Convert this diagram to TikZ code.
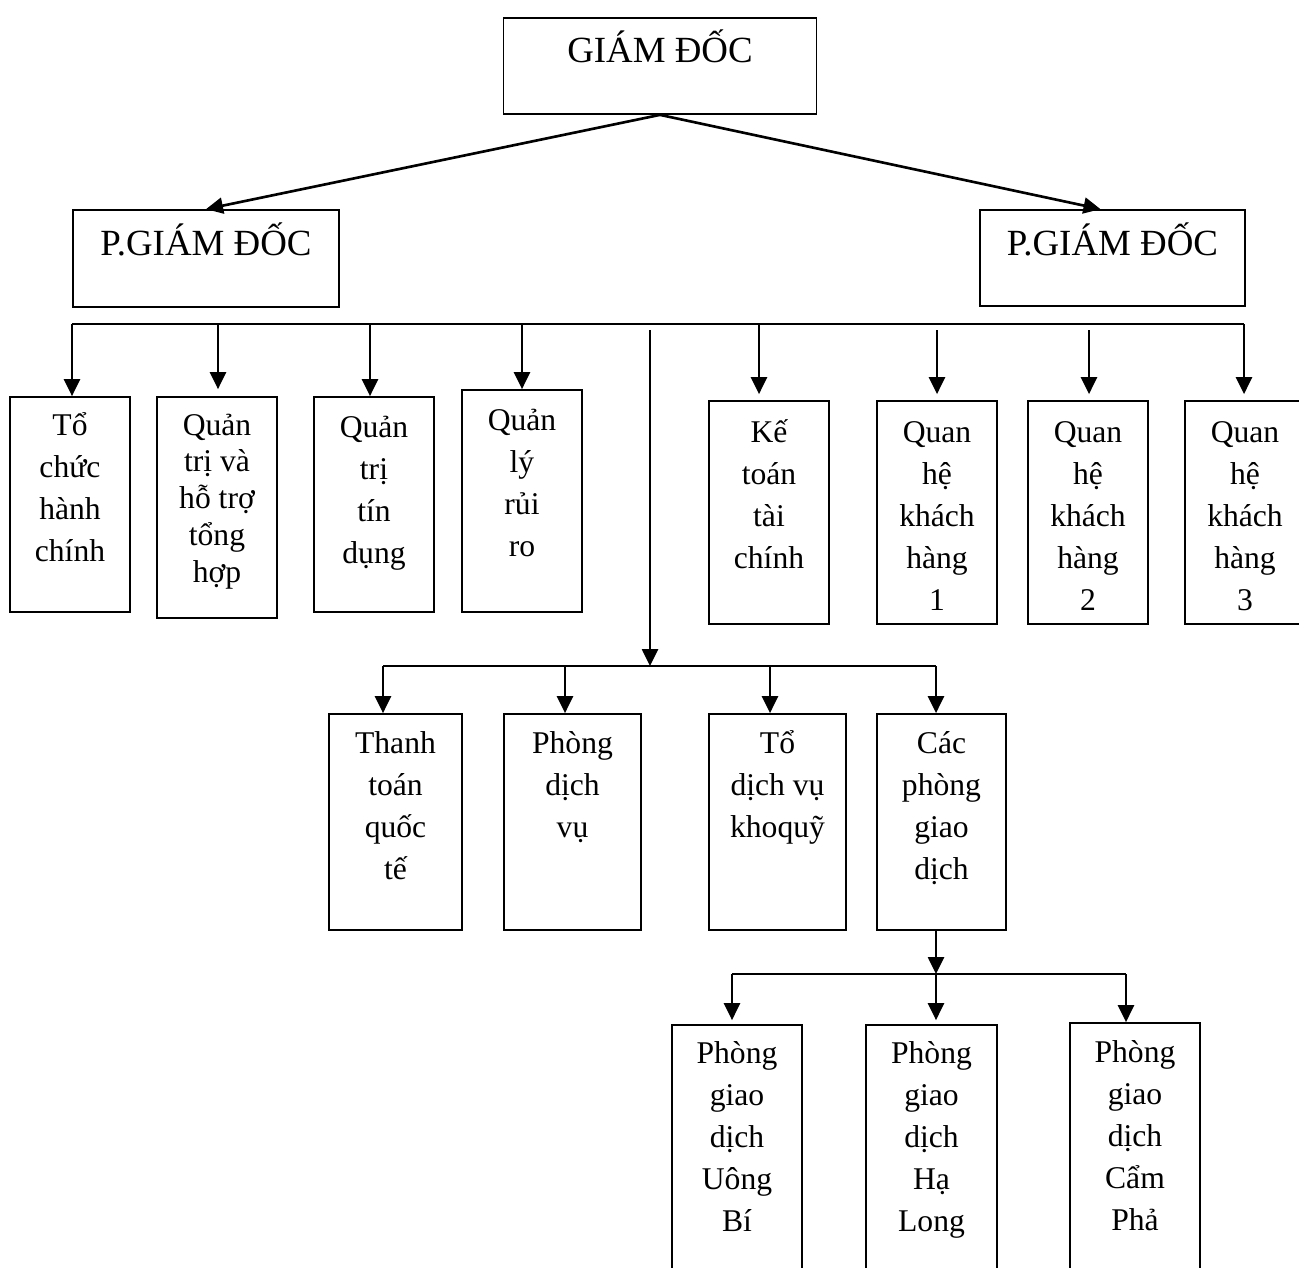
\documentclass[tikz,border=0pt]{standalone}
\usepackage{fontspec}
\setmainfont{Liberation Serif}
\usetikzlibrary{arrows.meta}

\tikzset{
  unit/.style={draw, line width=1pt, inner sep=0pt, font=\fontsize{18}{24}\selectfont},
  head/.style={draw, line width=1pt, inner sep=0pt, font=\fontsize{21}{25}\selectfont},
  link/.style={line width=1.5pt},
  arr/.style={link, -{Triangle[length=0.34cm,width=0.32cm]}},
}
% box text: [offset of first baseline]{width}{height}{lines}
\newcommand{\cell}[4][0.8cm]{\parbox[c][#3][t]{#2}{\centering\rule{0pt}{#1}#4}}

\begin{document}
\begin{tikzpicture}[x=0.02cm, y=-0.02cm]
\useasboundingbox (0,0) rectangle (1299,1268);

% top
\node[head] (gd) at (660,66) {\cell[0.88cm]{6.26cm}{1.92cm}{GIÁM ĐỐC}};
\node[head] (pgdl) at (206,258.5) {\cell[0.9cm]{5.32cm}{1.94cm}{P.GIÁM ĐỐC}};
\node[head] (pgdr) at (1112.5,258) {\cell[0.9cm]{5.3cm}{1.92cm}{P.GIÁM ĐỐC}};
\draw[arr] (gd.south) -- (pgdl.north);
\draw[arr] (gd.south) -- ([xshift=-0.24cm]pgdr.north);

% first row
\node[unit] (tc) at (70,504.5) {\cell[0.76cm]{2.4cm}{4.3cm}{Tổ\\chức\\hành\\chính}};
\node[unit, font=\fontsize{18}{21}\selectfont] (qt) at (217,507.5) {\cell[0.76cm]{2.4cm}{4.42cm}{Quản\\trị và\\hỗ trợ\\tổng\\hợp}};
\node[unit] (td) at (374,504.5) {\cell{2.4cm}{4.3cm}{Quản\\trị\\tín\\dụng}};
\node[unit] (rr) at (522,501) {\cell{2.4cm}{4.44cm}{Quản\\lý\\rủi\\ro}};
\node[unit] (kt) at (769,512.5) {\cell[0.82cm]{2.4cm}{4.46cm}{Kế\\toán\\tài\\chính}};
\node[unit] (kh1) at (937,512.5) {\cell[0.82cm]{2.4cm}{4.46cm}{Quan\\hệ\\khách\\hàng\\1}};
\node[unit] (kh2) at (1088,512.5) {\cell[0.82cm]{2.4cm}{4.46cm}{Quan\\hệ\\khách\\hàng\\2}};
\node[unit] (kh3) at (1245,512.5) {\cell[0.82cm]{2.4cm}{4.46cm}{Quan\\hệ\\khách\\hàng\\3}};

\coordinate (b1l) at (72,324);
\coordinate (b1r) at (1244,324);
\coordinate (d2) at (218,324);
\coordinate (d3) at (370,324);
\coordinate (d4) at (522,324);
\coordinate (d5) at (759,324);
\coordinate (d6) at (937,330);
\coordinate (d7) at (1089,330);
\draw[link] (b1l) -- (b1r);
\draw[arr] (b1l) -- (b1l |- tc.north);
\draw[arr, shorten >=0.14cm] (d2) -- (d2 |- qt.north);
\draw[arr] (d3) -- (d3 |- td.north);
\draw[arr] (d4) -- (d4 |- rr.north);
\draw[arr, shorten >=0.12cm] (d5) -- (d5 |- kt.north);
\draw[arr, shorten >=0.12cm] (d6) -- (d6 |- kh1.north);
\draw[arr, shorten >=0.12cm] (d7) -- (d7 |- kh2.north);
\draw[arr, shorten >=0.12cm] (b1r) -- (b1r |- kh3.north);

% second row
\node[unit] (tt) at (395.5,822) {\cell[0.78cm]{2.66cm}{4.32cm}{Thanh\\toán\\quốc\\tế}};
\node[unit] (pdv) at (572.5,822) {\cell[0.78cm]{2.74cm}{4.32cm}{Phòng\\dịch\\vụ}};
\node[unit] (kq) at (777.5,822) {\cell[0.78cm]{2.74cm}{4.32cm}{Tổ\\dịch vụ\\khoquỹ}};
\node[unit] (cpg) at (941.5,822) {\cell[0.78cm]{2.58cm}{4.32cm}{Các\\phòng\\giao\\dịch}};

\coordinate (v1) at (650,330);
\coordinate (b2m) at (650,666);
\coordinate (b2l) at (383,666);
\coordinate (b2r) at (936,666);
\coordinate (e2) at (565,666);
\coordinate (e3) at (770,666);
\draw[arr] (v1) -- (b2m);
\draw[link] (b2l) -- (b2r);
\draw[arr] (b2l) -- (b2l |- tt.north);
\draw[arr] (e2) -- (e2 |- pdv.north);
\draw[arr] (e3) -- (e3 |- kq.north);
\draw[arr] (b2r) -- (b2r |- cpg.north);

% third row
\node[unit] (ub) at (737,1162.5) {\cell[0.76cm]{2.6cm}{5.5cm}{Phòng\\giao\\dịch\\Uông\\Bí}};
\node[unit] (hl) at (931.5,1162.5) {\cell[0.76cm]{2.62cm}{5.5cm}{Phòng\\giao\\dịch\\Hạ\\Long}};
\node[unit] (cp) at (1135,1160.5) {\cell[0.78cm]{2.6cm}{5.5cm}{Phòng\\giao\\dịch\\Cẩm\\Phả}};

\coordinate (b3m) at (936,974);
\coordinate (b3l) at (732,974);
\coordinate (b3r) at (1126,974);
\draw[arr] (cpg.south -| b3m) -- (b3m);
\draw[link] (b3l) -- (b3r);
\draw[arr, shorten >=0.08cm] (b3l) -- (b3l |- ub.north);
\draw[arr, shorten >=0.08cm] (b3m) -- (b3m |- hl.north);
\draw[arr] (b3r) -- (b3r |- cp.north);
\end{tikzpicture}
\end{document}
